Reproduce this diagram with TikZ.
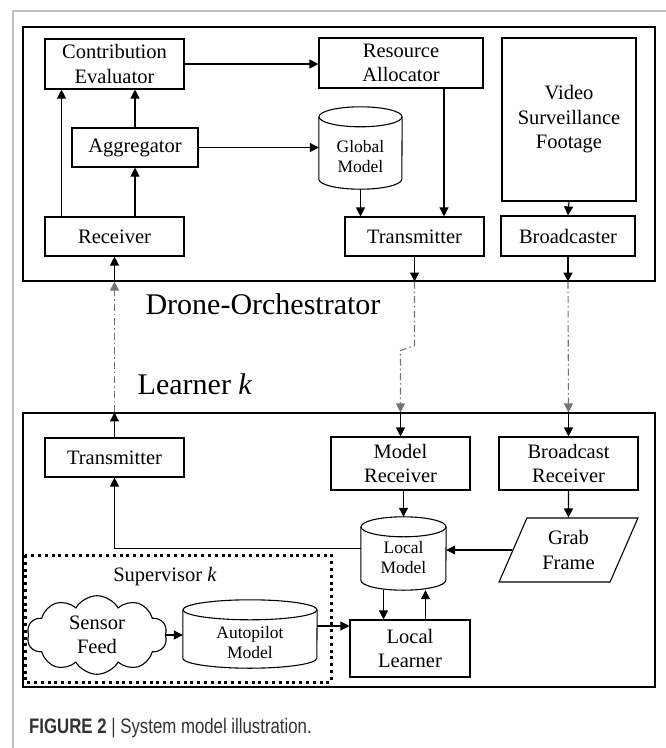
\documentclass[tikz,border=0pt]{standalone}
\usepackage{fontspec}
\setmainfont{Liberation Serif}
\newfontfamily\capfont[FakeStretch=0.8]{Liberation Sans}
\usetikzlibrary{arrows.meta, shapes.geometric, shapes.symbols}
\newcommand{\boxfont}{\fontsize{20.5}{24.5}\selectfont}
\newcommand{\dbfont}{\fontsize{17.5}{20}\selectfont}
\newcommand{\bigfont}{\fontsize{30}{36}\selectfont}
\newcommand{\drum}[3]{%
  \draw[line width=1.1pt] ([yshift=-#3pt]#1.north west) -- ([yshift=#3pt]#1.south west)
    arc[start angle=180, end angle=360, x radius=#2pt, y radius=#3pt] -- ([yshift=-#3pt]#1.north east);
  \draw[line width=1.1pt] ([yshift=-#3pt]#1.north) ellipse[x radius=#2pt, y radius=#3pt];
}
\definecolor{framegray}{gray}{0.75}
\definecolor{linkgray}{gray}{0.45}
\tikzset{
  block/.style={draw, line width=1.1pt, align=center, inner sep=1pt, font=\boxfont},
  store/.style={align=center, inner sep=0pt, font=\dbfont},
  arr/.style={line width=1.1pt, -{Triangle[length=9pt,width=9pt]}},
  link/.style={linkgray, line width=1.1pt, dash pattern=on 7pt off 3pt on 1.5pt off 3pt, -{Triangle[length=9pt,width=9pt]}}
}
\begin{document}
\begin{tikzpicture}[x=1pt, y=-1pt]
  \useasboundingbox (0,0) rectangle (665,748);
  \draw[framegray, line width=1.2pt] (13,760) -- (13,11) -- (680,11);

  \node[draw, line width=1.1pt, minimum width=632pt, minimum height=254pt] (orch) at (339,154) {};
  \node[draw, line width=1.1pt, minimum width=632pt, minimum height=274pt] (lrn) at (339,550) {};
  \node[font=\bigfont] (orchlbl) at (263,304) {Drone-Orchestrator};
  \node[font=\bigfont] (lrnlbl) at (195,384) {Learner \textit{k}};

  \node[block, minimum width=139pt, minimum height=50pt] (ce) at (114.5,64) {Contribution\\Evaluator};
  \node[block, minimum width=164pt, minimum height=50pt] (ra) at (401,63) {Resource\\Allocator};
  \node[block, minimum width=134pt, minimum height=163pt] (vid) at (569,119.5) {Video\\Surveillance\\Footage};
  \node[block, minimum width=126pt, minimum height=39pt] (agg) at (135,147.5) {Aggregator};
  \node[store, minimum width=83pt, minimum height=82pt] (gm) at (360.5,148) {\rule{0pt}{30pt}Global\\Model};
  \drum{gm}{41.5}{10}
  \node[block, minimum width=139pt, minimum height=39pt] (rcv) at (114.5,236.5) {Receiver};
  \node[block, minimum width=139pt, minimum height=39pt] (tx) at (414.5,236.5) {Transmitter};
  \node[block, minimum width=134pt, minimum height=40pt] (bc) at (568,236) {Broadcaster};

  \node[block, minimum width=139pt, minimum height=39pt] (ltx) at (114.5,457.5) {Transmitter};
  \node[block, minimum width=139pt, minimum height=53pt] (mr) at (400.5,463.5) {Model\\Receiver};
  \node[block, minimum width=139pt, minimum height=53pt] (br) at (568.5,463.5) {Broadcast\\Receiver};
  \node[store, minimum width=85pt, minimum height=73pt] (lm) at (403.5,553.5) {\rule{0pt}{21pt}Local\\Model};
  \drum{lm}{42.5}{10}
  \node[block, trapezium, trapezium left angle=66, trapezium right angle=114, trapezium stretches=true,
        minimum width=139pt, minimum height=64pt] (gf) at (568.5,550) {Grab\\Frame};
  \node[block, minimum width=120pt, minimum height=57pt] (ll) at (410,648.5) {Local\\Learner};

  \draw[line width=3pt, dash pattern=on 3pt off 3.8pt] (25,555) rectangle (331,682);
  \node[font=\boxfont] (suplbl) at (165,577) {Supervisor \textit{k}};
  \node[block, cloud, cloud puffs=10, cloud puff arc=120, aspect=2.4, minimum width=134pt, minimum height=56pt] (sf) at (97,635) {Sensor\\Feed};
  \node[store, minimum width=134pt, minimum height=68pt] (ap) at (250,634) {\rule{0pt}{30pt}Autopilot\\Model};
  \drum{ap}{67}{10}

  \draw[arr] (ce.east) -- (ce.east -| ra.west);
  \draw[arr] ([xshift=-53pt]rcv.north) -- ([xshift=-53pt]rcv.north |- ce.south);
  \draw[arr] (rcv.north -| agg.south) -- (agg.south);
  \draw[arr] (agg.north) -- (agg.north |- ce.south);
  \draw[arr] (agg.east) -- (agg.east -| gm.west);
  \draw[arr] (gm.south) -- (gm.south |- tx.north);
  \draw[arr] ([xshift=43pt]ra.south) -- ([xshift=43pt]ra.south |- tx.north);
  \draw[arr] (vid.south) -- (bc.north);

  \draw[arr] (tx.south) -- (tx.south |- orch.south);
  \draw[link] (tx.south |- orch.south) -- ++(0,64) -- ++(-14,5) -- (mr.north |- lrn.north);
  \draw[arr] (mr.north |- lrn.north) -- (mr.north);
  \draw[arr] (bc.south) -- (bc.south |- orch.south);
  \draw[link] (bc.south |- orch.south) -- (br.north |- lrn.north);
  \draw[arr] (br.north |- lrn.north) -- (br.north);
  \draw[arr] (ltx.north) -- (ltx.north |- lrn.north);
  \draw[link] (ltx.north |- lrn.north) -- (rcv.south |- orch.south);
  \draw[arr] (rcv.south |- orch.south) -- (rcv.south);

  \draw[arr] (mr.south -| lm.north) -- (lm.north);
  \draw[arr] (br.south) -- (gf.north);
  \draw[arr] (gf.west) -- (gf.west -| lm.east);
  \draw[arr] ([yshift=5pt]lm.west) -- ([yshift=5pt]lm.west -| ltx.south) -- (ltx.south);
  \draw[arr] ([xshift=-20pt]lm.south) -- ([xshift=-20pt]lm.south |- ll.north);
  \draw[arr] ([xshift=22pt]lm.south |- ll.north) -- ([xshift=22pt]lm.south);
  \draw[arr] (sf.east) -- (sf.east -| ap.west);
  \draw[arr] ([yshift=8pt]ap.east) -- ([yshift=8pt]ap.east -| ll.west);

  \node[anchor=base west, inner sep=0pt, text=black!80, font=\capfont\fontsize{21}{24}\selectfont] (cap) at (29,733)
    {\textbf{FIGURE 2} | System model illustration.};
\end{tikzpicture}
\end{document}
